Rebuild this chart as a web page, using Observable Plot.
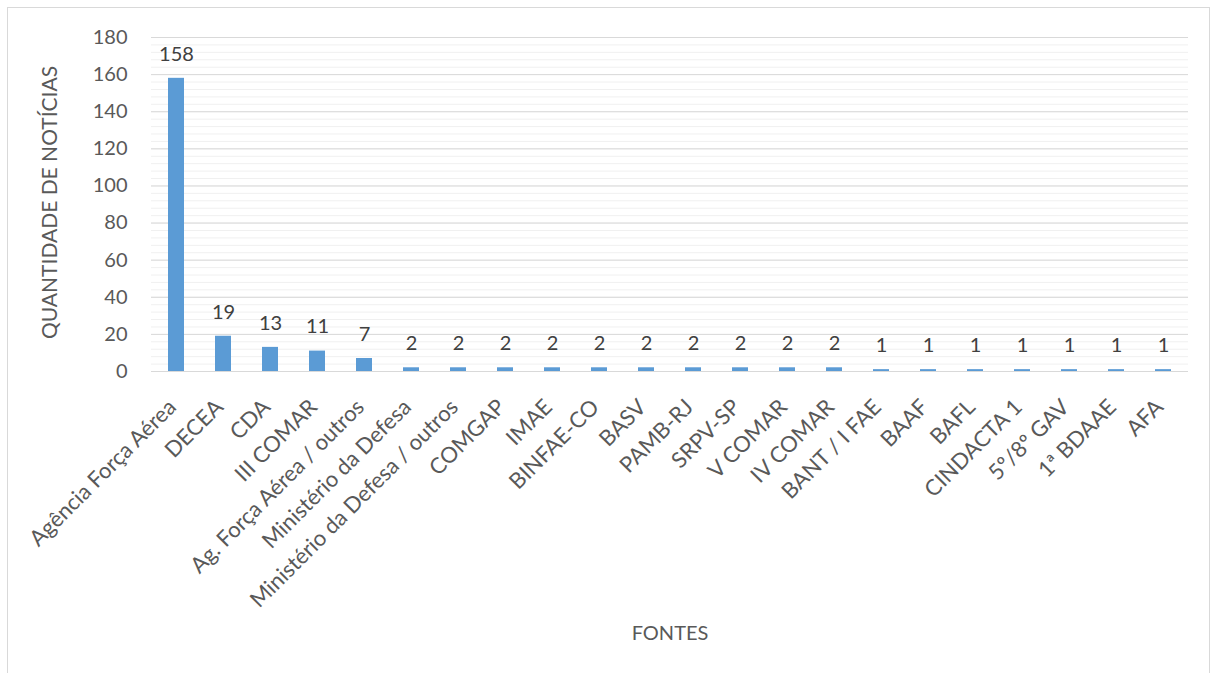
<!DOCTYPE html>
<html>
<head>
<meta charset="utf-8">
<script src="https://cdn.jsdelivr.net/npm/d3@7"></script>
<script src="https://cdn.jsdelivr.net/npm/@observablehq/plot@0.6"></script>
<style>
  html, body { margin: 0; padding: 0; background: #fff; }
  #frame { position: absolute; left: 7px; top: 7px; width: 1203px; height: 670px; border: 1px solid #d9d9d9; border-bottom: none; box-sizing: border-box; }
  #chart { position: absolute; left: 0; top: 0; }
</style>
</head>
<body>
<div id="frame"></div>
<div id="chart"></div>
<script>
const categories = [
  "Agência Força Aérea", "DECEA", "CDA", "III COMAR", "Ag. Força Aérea / outros",
  "Ministério da Defesa", "Ministério da Defesa / outros", "COMGAP", "IMAE", "BINFAE-CO",
  "BASV", "PAMB-RJ", "SRPV-SP", "V COMAR", "IV COMAR", "BANT / I FAE", "BAAF", "BAFL",
  "CINDACTA 1", "5º/8º GAV", "1ª BDAAE", "AFA"
];
const values = [158, 19, 13, 11, 7, 2, 2, 2, 2, 2, 2, 2, 2, 2, 2, 1, 1, 1, 1, 1, 1, 1];
const yTicks = [0, 20, 40, 60, 80, 100, 120, 140, 160, 180];
const minorTicks = d3.range(0, 181, 4);

const data = categories.map((c, i) => ({ fonte: c, n: values[i] }));
const font = "Lato, 'Open Sans', sans-serif";

const chart = Plot.plot({
  width: 1215,
  height: 673,
  marginLeft: 151,
  marginRight: 27,
  marginTop: 37,
  marginBottom: 302,
  style: { fontFamily: font, background: "transparent", color: "#595959" },
  x: { domain: categories, paddingInner: 0.66, paddingOuter: 0.33, label: null },
  y: { domain: [0, 180], label: null },
  marks: [
    Plot.ruleY(minorTicks, { stroke: "#f0f0f0", strokeWidth: 1 }),
    Plot.ruleY(yTicks, { stroke: "#d9d9d9", strokeWidth: 1 }),
    Plot.barY(data, { x: "fonte", y: "n", fill: "#5b9bd5" }),
    Plot.text(data, { x: "fonte", y: "n", text: d => String(d.n), dy: -24, fontSize: 20, fill: "#404040" }),
    Plot.axisY({ ticks: yTicks, tickSize: 0, tickPadding: 24, fontSize: 20, label: null }),
    Plot.axisX({ tickSize: 0, tickPadding: 8, tickRotate: -45, fontSize: 22, dx: -4, dy: 24, label: null }),
    Plot.text(["QUANTIDADE DE NOTÍCIAS"], { frameAnchor: "left", textAnchor: "middle", dx: -101, dy: -2, rotate: -90, fontSize: 21, fill: "#595959" }),
    Plot.text(["FONTES"], { frameAnchor: "bottom", dx: 0, dy: 268, fontSize: 20, fill: "#595959" })
  ]
});
document.getElementById("chart").appendChild(chart);
</script>
</body>
</html>
